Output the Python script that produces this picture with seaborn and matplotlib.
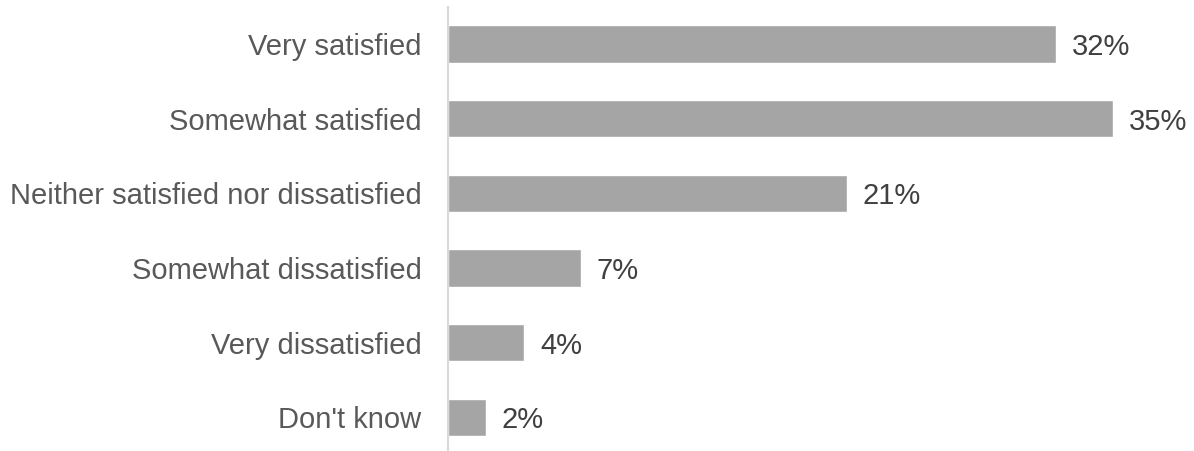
import matplotlib
matplotlib.use("Agg")
import matplotlib.pyplot as plt
import seaborn as sns
import pandas as pd

categories = [
    "Very satisfied",
    "Somewhat satisfied",
    "Neither satisfied nor dissatisfied",
    "Somewhat dissatisfied",
    "Very dissatisfied",
    "Don't know",
]
values = [32, 35, 21, 7, 4, 2]
value_labels = ["32%", "35%", "21%", "7%", "4%", "2%"]

sns.set_theme(style="white")
plt.rcParams["font.family"] = ["Liberation Sans", "DejaVu Sans"]

df = pd.DataFrame({"category": categories, "value": values})

fig = plt.figure(figsize=(11.94, 4.51), dpi=100)
ax = fig.add_axes([448 / 1194, -3.6 / 451, 722 / 1194, 448 / 451])

sns.barplot(data=df, y="category", x="value", orient="h", color="#A5A5A5",
            saturation=1, width=0.5, ax=ax)

ax.set_xlim(0, 38)
ax.set_xlabel("")
ax.set_ylabel("")
ax.set_xticks([])
for s in ["top", "right", "bottom"]:
    ax.spines[s].set_visible(False)
ax.spines["left"].set_color("#D9D9D9")
ax.spines["left"].set_linewidth(1.5)
ax.tick_params(axis="y", length=0, pad=19, labelsize=21, labelcolor="#595959")

for i, (v, lab) in enumerate(zip(values, value_labels)):
    ax.annotate(lab, xy=(v, i), xytext=(11.5, 0), textcoords="offset points",
                va="center_baseline", ha="left", fontsize=21, color="#404040")

fig.savefig("out.png", dpi=100)
